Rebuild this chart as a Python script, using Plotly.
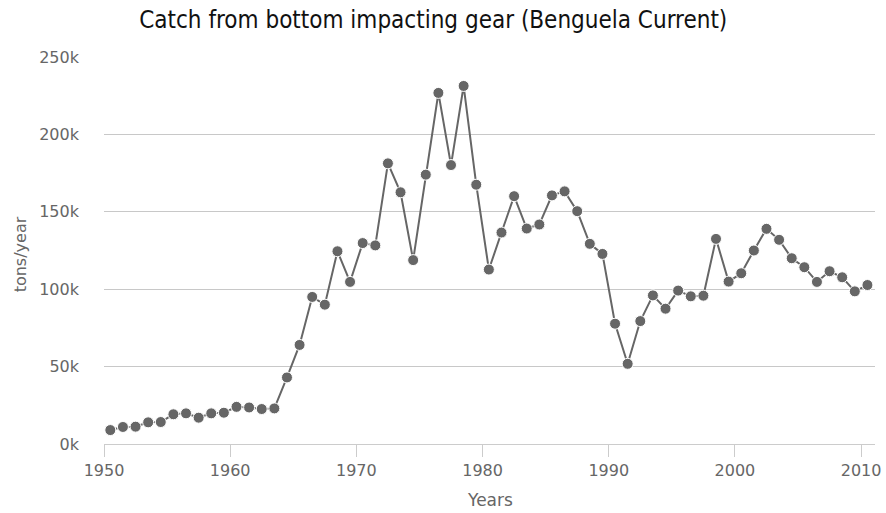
import plotly.graph_objects as go

# Annual catch from bottom impacting gear, Benguela Current LME (tons/year)
years = list(range(1950, 2011))
catch = [
    9000, 11000, 11200, 14000, 14200, 19200, 19800, 17000, 19800, 20200,
    24000, 23600, 22600, 23000, 43000, 64000, 95000, 90000, 124500, 104700,
    129800, 128300, 181300, 162600, 118800, 174000, 226800, 180200, 231300, 167500,
    112700, 136600, 160100, 139200, 141800, 160600, 163200, 150400, 129300, 122800,
    77700, 51800, 79400, 96000, 87400, 99100, 95400, 95800, 132500, 104900,
    110300, 125000, 139000, 131900, 120000, 114200, 104700, 111600, 107700, 98600,
    102700,
]

y_tickvals = [0, 50000, 100000, 150000, 200000, 250000]
y_ticktext = ["0k", "50k", "100k", "150k", "200k", "250k"]
x_tickvals = [1950, 1960, 1970, 1980, 1990, 2000, 2010]

# each yearly total is plotted at mid-year
x_mid = [y + 0.5 for y in years]

fig = go.Figure()
fig.add_trace(go.Scatter(
    x=x_mid, y=catch, mode="lines+markers",
    line=dict(color="#666666", width=2),
    marker=dict(color="#666666", size=11, line=dict(color="white", width=1)),
    hoverinfo="x+y", showlegend=False,
))

font_family = "DejaVu Sans, Verdana, sans-serif"
fig.update_layout(
    width=886, height=513,
    margin=dict(l=104, r=11, t=57, b=69, autoexpand=False),
    paper_bgcolor="white", plot_bgcolor="white",
    font=dict(family=font_family, color="#666666", size=16),
    title=dict(
        text="Catch from bottom impacting gear (Benguela Current)",
        x=0.489, xanchor="center", y=0.962, yanchor="middle",
        font=dict(size=24, color="#111111",
                  family="DejaVu Sans Condensed, DejaVu Sans, sans-serif"),
    ),
    xaxis=dict(
        range=[1950, 2011.1], tickvals=x_tickvals, ticks="outside", ticklen=12,
        tickcolor="#cccccc", tickwidth=1, showline=True, linecolor="#cccccc",
        linewidth=1, showgrid=False, zeroline=False, automargin=False,
        tickfont=dict(size=16, color="#666666"),
    ),
    yaxis=dict(
        range=[0, 250000], tickvals=y_tickvals, ticktext=y_ticktext,
        showgrid=True, gridcolor="#c8c8c8", gridwidth=1, zeroline=False,
        showline=False, ticks="", ticklabelstandoff=24, automargin=False,
        tickfont=dict(size=16, color="#666666"),
    ),
    annotations=[
        dict(text="Years", xref="paper", yref="paper", x=0.5, y=-0.145,
             xanchor="center", yanchor="middle", showarrow=False,
             font=dict(size=17, color="#666666")),
        dict(text="tons/year", xref="paper", yref="paper", x=-0.109, y=0.49,
             xanchor="center", yanchor="middle", showarrow=False, textangle=-90,
             font=dict(size=16, color="#666666")),
    ],
)

fig.write_html("out.html")
